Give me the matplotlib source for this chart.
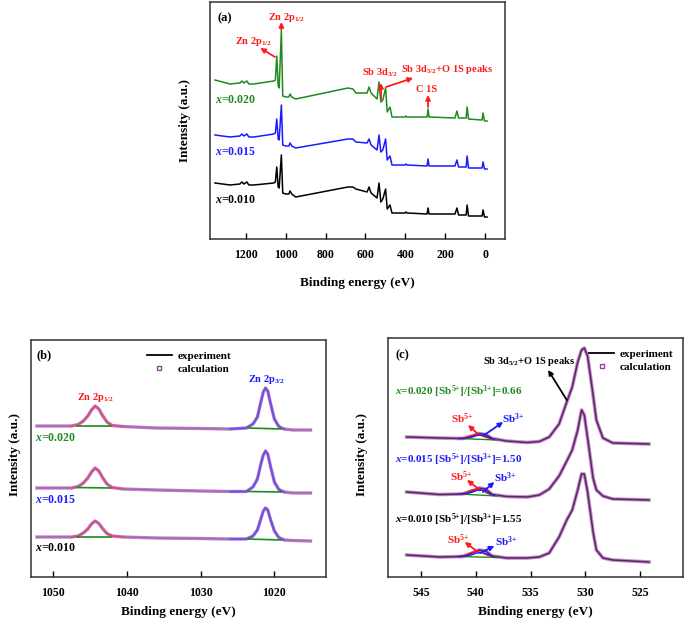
import matplotlib
matplotlib.use("Agg")
import matplotlib.pyplot as plt
from matplotlib.lines import Line2D

plt.rcParams["font.family"] = ["Liberation Serif", "DejaVu Serif"]
plt.rcParams["font.weight"] = "bold"
plt.rcParams["mathtext.fontset"] = "custom"
plt.rcParams["mathtext.rm"] = "Liberation Serif:bold"
plt.rcParams["mathtext.bf"] = "Liberation Serif:bold"
plt.rcParams["mathtext.it"] = "Liberation Serif:italic:bold"

GREEN = "#1f8a1f"
BLUE = "#1a1aff"
RED = "#ff1a1a"
PURPLE = "#9a3fa8"
LILAC = "#b873c4"

# ---- (a) survey spectra ----
survey_be = [1355, 1280, 1230, 1220, 1210, 1195, 1185, 1160, 1060, 1052, 1045, 1038,
             1033, 1022, 1015, 1000, 985, 978, 970, 950, 688, 663, 648, 592, 582, 572,
             542, 532, 523, 513, 499, 491, 477, 467, 402, 397, 392, 291, 286, 281, 151,
             141, 133, 95, 90, 83, 15, 10, 3, -10]
survey_020 = [160, 156, 157, 159, 157, 159, 156, 156, 159, 160, 184, 154, 152, 209, 144,
              143, 143, 146, 143, 141, 152, 151, 147, 147, 153, 147, 141, 158, 138, 140,
              152, 128, 133, 123, 123, 124, 123, 123, 131, 123, 122, 129, 122, 122, 133,
              121, 120, 127, 119, 119]
survey_015 = [105, 103, 104, 106, 104, 106, 103, 103, 106, 107, 121, 101, 100, 135, 95,
              94, 94, 97, 94, 92, 101, 101, 98, 97, 101, 95, 90, 105, 88, 90, 101, 80,
              84, 75, 75, 76, 75, 74, 81, 74, 74, 80, 73, 73, 84, 72, 72, 78, 71, 71]
survey_010 = [57, 55, 56, 58, 56, 58, 55, 55, 57, 58, 73, 53, 52, 85, 47, 46, 46, 49, 46,
              43, 53, 53, 51, 48, 53, 47, 42, 57, 38, 41, 51, 31, 35, 27, 27, 28, 27, 26,
              32, 26, 26, 32, 25, 25, 35, 24, 24, 30, 23, 23]

# ---- (b) Zn 2p spectra ----
zn_be = [1052.2, 1049.0, 1047.5, 1046.6, 1045.9, 1045.3, 1044.8, 1044.3, 1043.8, 1043.3,
         1042.7, 1042.0, 1040.5, 1036.0, 1030.0, 1026.0, 1023.8, 1022.9, 1022.3, 1021.8,
         1021.5, 1021.2, 1020.9, 1020.5, 1020.0, 1019.4, 1018.7, 1017.5, 1015.1]
zn_020 = [151, 151, 151, 152.5, 156, 161, 167, 171, 168, 161.5, 155, 151.5, 150.5, 149,
          148.5, 148, 149, 153, 160, 176, 185, 189, 186, 173, 158, 150.5, 148, 147, 147]
zn_015 = [89, 89, 89, 90.5, 94, 99, 105, 109, 106, 99.5, 93, 89.5, 88, 87, 86, 85.5,
          85.5, 90, 98, 114, 122, 126, 123, 110, 95, 87.5, 85, 84, 84]
zn_010 = [40, 40, 40, 41, 44, 48, 53, 56, 53.5, 48.5, 43.5, 41, 40, 39, 38.5, 38, 38,
          41, 47, 59, 66, 69, 67, 57, 46, 39.5, 37, 36.5, 36]
zn_bg_be = [[1046.8, 1042.2], [1023.5, 1019.1]]
zn_bg_020 = [[151, 151], [149, 148]]
zn_bg_015 = [[89.5, 89], [85.5, 85]]
zn_bg_010 = [[40.5, 40.5], [38, 37]]

# ---- (c) Sb 3d / O 1s spectra ----
sb_be = [546.3, 543.3, 541.2, 540.3, 539.7, 539.1, 538.5, 537.2, 535.3, 534.2, 533.3,
         532.4, 531.7, 531.2, 530.7, 530.35, 530.1, 529.8, 529.3, 529.0, 528.4, 527.5, 524.2]
sb_020 = [140, 139, 138.5, 141, 143.5, 142.5, 138.5, 136, 134.5, 135.5, 140, 153, 175,
          190, 215, 227, 229, 221, 182, 157, 139, 134, 133]
sb_015 = [85, 82.5, 83, 86, 89, 88, 82.5, 80.5, 80, 82, 88, 101, 116, 127, 147, 167, 162,
          139, 99, 87, 81, 78, 77]
sb_010 = [22, 20, 20.5, 24, 27, 26, 21, 19, 19, 20, 24, 40, 57, 67, 87, 103, 103, 85, 45,
          27, 19, 17, 15]
comp_be = [541.6, 540.9, 540.4, 539.9, 539.4, 538.9, 538.3]
sb5_020 = [138.5, 139.5, 141.5, 142.5, 141, 139, 137.5]
sb3_020 = [138.5, 138.8, 139.8, 141.5, 142, 140, 137.5]
sb5_015 = [83, 84.5, 87, 88, 86.5, 83.5, 81.5]
sb3_015 = [83, 83.3, 84.5, 86.5, 87, 84.5, 81.5]
sb5_010 = [20.5, 22, 24.5, 25.5, 24, 21.5, 20]
sb3_010 = [20.5, 21, 22, 24, 24.5, 22.5, 20]
comp_bg_be = [541.6, 538.0]
comp_bg_020 = [138.5, 137]
comp_bg_015 = [83, 81]
comp_bg_010 = [20.5, 19.5]
ratios = ["0.66", "1.50", "1.55"]
samples = ["0.020", "0.015", "0.010"]
sample_colors = [GREEN, BLUE, "black"]

SB5 = r"Sb$^{5{+}}$"
SB3 = r"Sb$^{3{+}}$"


def style_axis(ax, ticks):
    ax.set_yticks([])
    ax.set_xticks(ticks)
    ax.tick_params(axis="x", direction="in", length=4, width=1, labelsize=8.5, pad=7)
    for spine in ax.spines.values():
        spine.set_linewidth(1.1)
        spine.set_color("#333333")


def arrow(ax, text, xy, xytext, color, tx, ty, fs=7.5):
    ax.annotate("", xy=xytext, xytext=xy,
                arrowprops=dict(arrowstyle="-|>", color=color, lw=1.3, mutation_scale=7,
                                shrinkA=0, shrinkB=0))
    if text:
        ax.text(tx, ty, text, color=color, fontsize=fs, ha="center", va="center")


def window(be, vals, hi, lo):
    pts = [(b, v) for b, v in zip(be, vals) if lo <= b <= hi]
    return [p[0] for p in pts], [p[1] for p in pts]


fig = plt.figure(figsize=(6.85, 6.22), dpi=100)

# ---------------- (a) ----------------
ax_a = fig.add_axes([210 / 685, 1 - 239 / 622, 295 / 685, 237 / 622])
for vals, color in zip([survey_020, survey_015, survey_010], sample_colors):
    ax_a.plot(survey_be, vals, color=color, lw=1.1)
ax_a.set_xlim(1380, -100)
ax_a.set_ylim(1, 238)
style_axis(ax_a, [1200, 1000, 800, 600, 400, 200, 0])
ax_a.text(0.024, 0.932, "(a)", transform=ax_a.transAxes, fontsize=9, va="center")
arrow(ax_a, r"Zn 2p$_{1/2}$", (1022, 210), (1022, 218), RED, 997, 223)
arrow(ax_a, r"Zn 2p$_{1/2}$", (1054, 183), (1128, 192), RED, 1162, 198)
arrow(ax_a, r"Sb 3d$_{3/2}$", (522, 141), (522, 157), RED, 527, 167)
arrow(ax_a, r"Sb 3d$_{5/2}$+O 1S peaks", (497, 153), (361, 162), RED, 190, 171)
arrow(ax_a, "C 1S", (286, 133), (286, 145), RED, 291, 151)
for s, c, y in zip(samples, sample_colors, [140, 88, 40]):
    ax_a.text(1356, y, r"$x$=" + s, color=c, fontsize=8.5, va="center")
fig.text(185 / 685, 1 - 120 / 622, "Intensity (a.u.)", rotation=90, fontsize=9.5,
         ha="center", va="center")
fig.text(357 / 685, 1 - 283 / 622, "Binding energy (eV)", fontsize=9.5,
         ha="center", va="center")

# ---------------- (b) ----------------
ax_b = fig.add_axes([31 / 685, 1 - 577 / 622, 295 / 685, 237 / 622])
zn_sets = [(zn_020, zn_bg_020), (zn_015, zn_bg_015), (zn_010, zn_bg_010)]
for vals, bg in zn_sets:
    ax_b.plot(zn_be, vals, color="black", lw=1.0, zorder=2)
    ax_b.plot(zn_be, vals, color=LILAC, lw=2.4, alpha=0.9, zorder=3)
    bx, by = window(zn_be, vals, 1047.5, 1040.5)
    ax_b.plot(bx, by, color="#f0406a", lw=1.6, alpha=0.55, zorder=4)
    bx, by = window(zn_be, vals, 1026.0, 1018.7)
    ax_b.plot(bx, by, color="#3a3aff", lw=1.6, alpha=0.5, zorder=4)
    for gx, gy in zip(zn_bg_be, bg):
        ax_b.plot(gx, gy, color=GREEN, lw=1.2, zorder=4)
ax_b.set_xlim(1053, 1013)
ax_b.set_ylim(0, 237)
style_axis(ax_b, [1050, 1040, 1030, 1020])
ax_b.text(0.02, 0.937, "(b)", transform=ax_b.transAxes, fontsize=9, va="center")
ax_b.text(1044.2, 180, r"Zn 2p$_{1/2}$", color=RED, fontsize=7.5, ha="center", va="center")
ax_b.text(1021.0, 197, r"Zn 2p$_{3/2}$", color=BLUE, fontsize=7.5, ha="center", va="center")
for s, c, y in zip(samples, sample_colors, [139, 77, 29]):
    ax_b.text(1052.5, y, r"$x$=" + s, color=c, fontsize=8.5, va="center")

handles = [Line2D([], [], color="black", lw=1.3),
           Line2D([], [], color=PURPLE, ls="none", marker="s", mfc="none", ms=3.5, mew=1)]
ax_b.legend(handles, ["experiment", "calculation"], loc="upper left",
            bbox_to_anchor=(0.36, 0.995), frameon=False, fontsize=8,
            handlelength=2.2, handletextpad=0.5, labelspacing=0.3)
fig.text(15 / 685, 1 - 455 / 622, "Intensity (a.u.)", rotation=90, fontsize=9.5,
         ha="center", va="center")
fig.text(178 / 685, 1 - 612 / 622, "Binding energy (eV)", fontsize=9.5,
         ha="center", va="center")

# ---------------- (c) ----------------
ax_c = fig.add_axes([388 / 685, 1 - 577 / 622, 295 / 685, 239 / 622])
sb_sets = [(sb_020, sb5_020, sb3_020, comp_bg_020),
           (sb_015, sb5_015, sb3_015, comp_bg_015),
           (sb_010, sb5_010, sb3_010, comp_bg_010)]
for vals, s5, s3, bg in sb_sets:
    ax_c.plot(sb_be, vals, color="black", lw=1.1, zorder=2)
    ax_c.plot(sb_be, vals, color=PURPLE, lw=2.6, alpha=0.6, zorder=3)
    ax_c.plot(comp_bg_be, bg, color=GREEN, lw=1.0, zorder=4)
    ax_c.plot(comp_be, s5, color=RED, lw=0.9, zorder=4)
    ax_c.plot(comp_be, s3, color=BLUE, lw=0.9, zorder=4)
ax_c.set_xlim(548, 521.1)
ax_c.set_ylim(0, 239)
style_axis(ax_c, [545, 540, 535, 530, 525])
ax_c.text(0.024, 0.929, "(c)", transform=ax_c.transAxes, fontsize=9, va="center")
arrow(ax_c, "", (531.7, 177), (533.4, 207), "black", 0, 0)
ax_c.text(535.1, 216, r"Sb 3d$_{5/2}$+O 1S peaks", fontsize=7.5, ha="center", va="center")
label_y = [185, 117, 57]
sb5_pos = [[(539.8, 143), (540.7, 152), 541.2, 158],
           [(539.6, 87), (540.8, 97), 541.3, 100],
           [(539.8, 25), (541.0, 35), 541.6, 37]]
sb3_pos = [[(539.35, 141), (537.5, 155), 536.6, 158],
           [(539.35, 85), (538.3, 95), 537.3, 99],
           [(539.6, 24), (538.3, 31), 537.2, 35]]
for i in range(3):
    ax_c.text(547.4, label_y[i],
              r"$x$=" + samples[i] + r" [Sb$^{5{+}}$]/[Sb$^{3{+}}$]=" + ratios[i],
              color=sample_colors[i], fontsize=8, va="center")
    p = sb5_pos[i]
    arrow(ax_c, SB5, p[0], p[1], RED, p[2], p[3], fs=8)
    p = sb3_pos[i]
    arrow(ax_c, SB3, p[0], p[1], BLUE, p[2], p[3], fs=8)
ax_c.legend(handles, ["experiment", "calculation"], loc="upper right",
            bbox_to_anchor=(1.0, 0.995), frameon=False, fontsize=8,
            handlelength=2.2, handletextpad=0.5, labelspacing=0.3)
fig.text(362 / 685, 1 - 455 / 622, "Intensity (a.u.)", rotation=90, fontsize=9.5,
         ha="center", va="center")
fig.text(535 / 685, 1 - 612 / 622, "Binding energy (eV)", fontsize=9.5,
         ha="center", va="center")

fig.savefig("out.png", dpi=100)
